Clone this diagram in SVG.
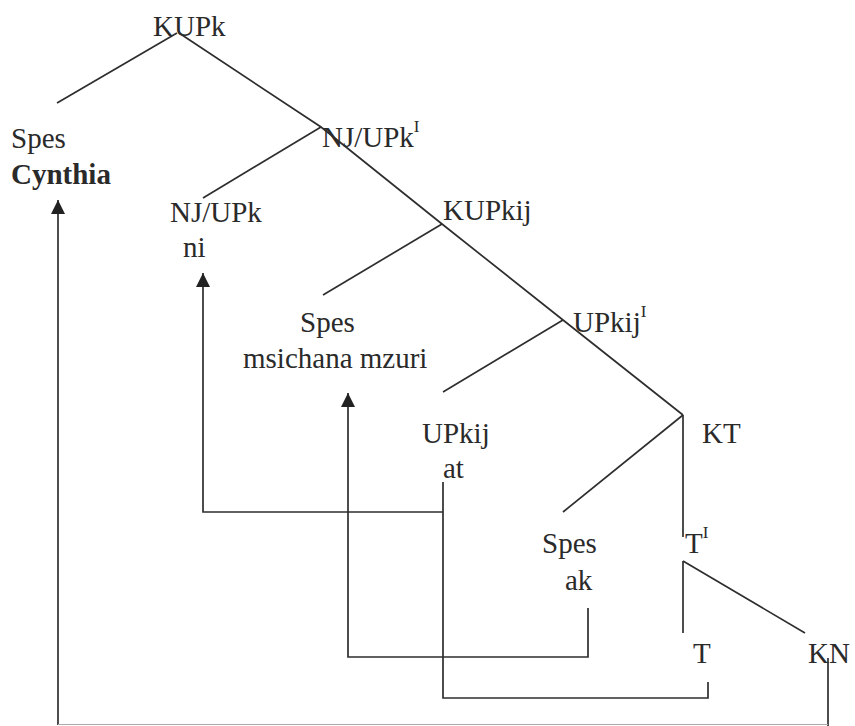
<svg xmlns="http://www.w3.org/2000/svg" width="855" height="726" viewBox="0 0 855 726">
<style>
text{font-family:'Liberation Serif','Times New Roman',Times,Tinos,'Noto Serif','DejaVu Serif',FreeSerif,'Nimbus Roman','Nimbus Roman No9 L',Georgia,'Source Serif Pro','Roboto Slab',serif;font-size:29px;fill:#2a2a2a}
.b{font-weight:bold}
.sup{font-size:17px}
.l{stroke:#2e2e2e;stroke-width:1.7;fill:none}
</style>
<defs>
<marker id="ah" viewBox="0 0 10 10" refX="10" refY="5" markerWidth="15" markerHeight="14" markerUnits="userSpaceOnUse" orient="auto">
<path d="M0,0 L10,5 L0,10 Z" fill="#222"/>
</marker>
</defs>
<rect width="855" height="726" fill="#fff"/>
<g id="n-kupk"><text x="153" y="36">KUPk</text></g>
<g id="n-spes1"><text x="11" y="148">Spes</text><text class="b" x="11" y="184">Cynthia</text></g>
<g id="n-njupk-bar"><text x="322" y="147">NJ/UPk<tspan class="sup" dy="-15">I</tspan></text></g>
<g id="n-njupk"><text x="170" y="222">NJ/UPk</text><text x="183" y="257">ni</text></g>
<g id="n-kupkij"><text x="443" y="220">KUPkij</text></g>
<g id="n-spes2"><text x="300" y="332">Spes</text><text x="243" y="368">msichana mzuri</text></g>
<g id="n-upkij-bar"><text x="573" y="332">UPkij<tspan class="sup" dy="-15">I</tspan></text></g>
<g id="n-upkij"><text x="422" y="443">UPkij</text><text x="443" y="478">at</text></g>
<g id="n-kt"><text x="702" y="443">KT</text></g>
<g id="n-spes3"><text x="542" y="553">Spes</text><text x="565" y="590">ak</text></g>
<g id="n-tbar"><text x="685" y="553">T<tspan class="sup" dy="-15">I</tspan></text></g>
<g id="n-t"><text x="693" y="663">T</text></g>
<g id="n-kn"><text x="808" y="663">KN</text></g>
<g id="connectors">
<path class="l" d="M177,33 L57,103"/>
<path class="l" d="M179,33 L321,127 L442,224 L563,320 L683,415"/>
<path class="l" d="M321,127 L203,198"/>
<path class="l" d="M442,224 L323,295"/>
<path class="l" d="M563,320 L443,392"/>
<path class="l" d="M683,415 L563,512"/>
<path class="l" d="M683,415 L683,537"/>
<path class="l" d="M683,561 L683,633"/>
<path class="l" d="M683,561 L805,633"/>
<path class="l" d="M58,725 L58,200" marker-end="url(#ah)"/>
<path class="l" d="M443,512 L203,512 L203,273" marker-end="url(#ah)"/>
<path class="l" d="M588,608 L588,657 L348,657 L348,393" marker-end="url(#ah)"/>
<path class="l" d="M443,482 L443,698 L708,698 L708,682"/>
<path class="l" d="M828,658 L828,726"/>
<path d="M58,724.5 L828,724.5" stroke="#aaa" stroke-width="1.2" fill="none"/>
</g>
</svg>
